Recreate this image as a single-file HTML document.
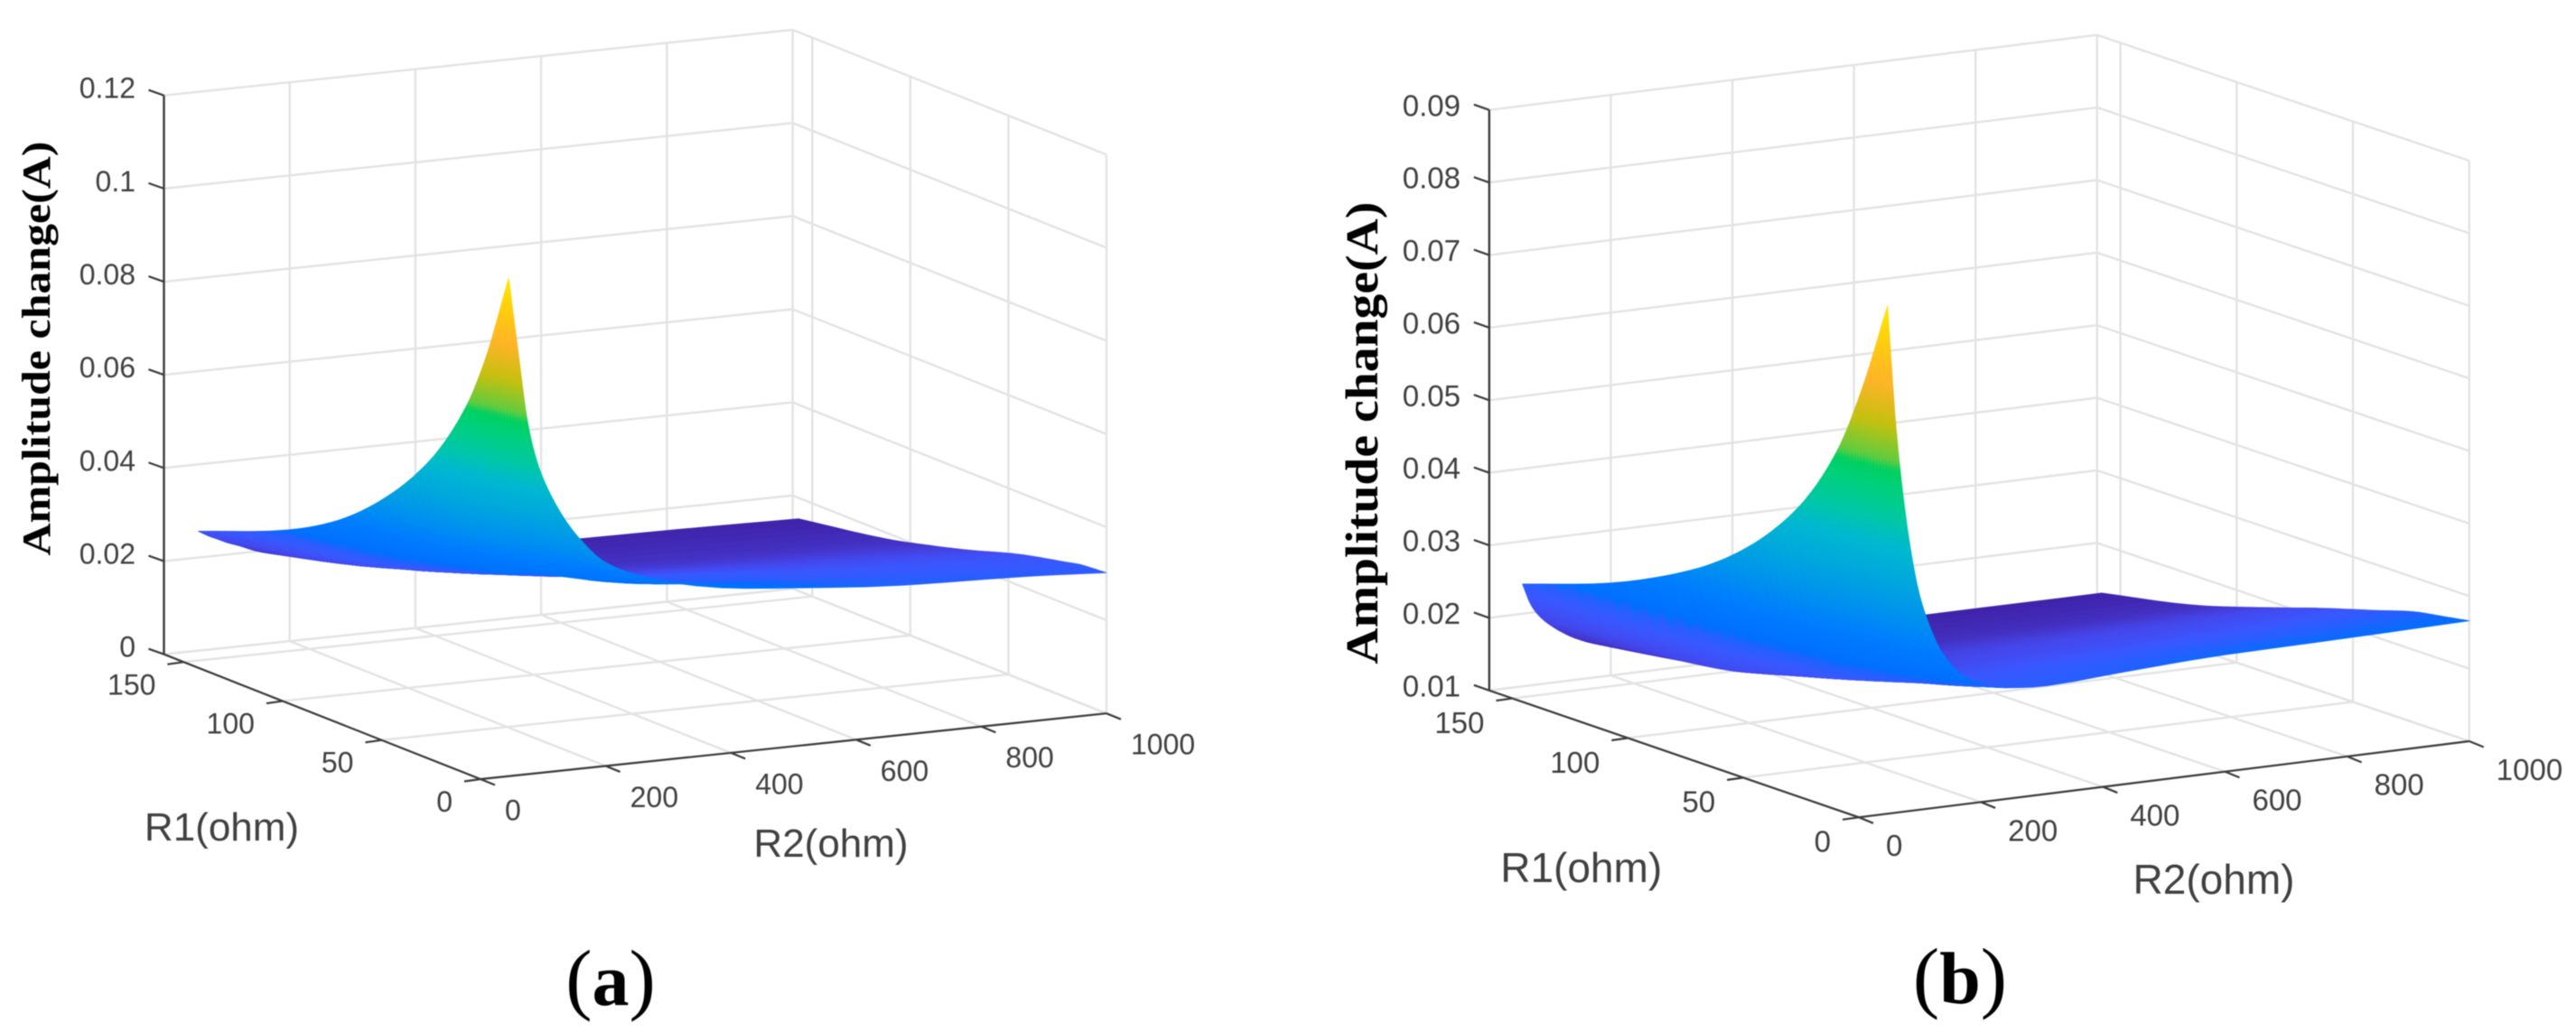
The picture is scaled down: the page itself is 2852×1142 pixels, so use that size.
<!DOCTYPE html>
<html lang="en">
<head>
<meta charset="utf-8">
<title>Amplitude change surfaces</title>
<style>
html,body{margin:0;padding:0;background:#fff;width:2852px;height:1142px;overflow:hidden}
svg{display:block;filter:blur(0.6px)}
.tick{font-family:"Liberation Sans",sans-serif;fill:#404040}
.axis-label{font-family:"Liberation Sans",sans-serif;fill:#404040}
.z-title{font-family:"Liberation Serif",serif;font-weight:bold;fill:#000}
.caption{font-family:"Liberation Serif",serif;fill:#000}
</style>
</head>
<body>
<svg id="figure" xmlns="http://www.w3.org/2000/svg" width="2852" height="1142" viewBox="0 0 2852 1142">
  <rect x="0" y="0" width="2852" height="1142" fill="#fff"/>
  <g id="panel-a"></g>
  <g id="panel-b"></g>

  <text class="z-title" transform="translate(55,386) rotate(-90)" text-anchor="middle" font-size="44" textLength="459" lengthAdjust="spacingAndGlyphs">Amplitude change(A)</text>
  <text class="axis-label" x="245.5" y="931" text-anchor="middle" font-size="44">R1(ohm)</text>
  <text class="axis-label" x="920" y="949" text-anchor="middle" font-size="44">R2(ohm)</text>
  <text class="caption" x="676" y="1113" text-anchor="middle" font-size="88">(<tspan font-weight="bold" font-size="82">a</tspan>)</text>

  <text class="z-title" transform="translate(1525,479.6) rotate(-90)" text-anchor="middle" font-size="51" textLength="512" lengthAdjust="spacingAndGlyphs">Amplitude change(A)</text>
  <text class="axis-label" x="1750.7" y="977" text-anchor="middle" font-size="46">R1(ohm)</text>
  <text class="axis-label" x="2451" y="990" text-anchor="middle" font-size="46">R2(ohm)</text>
  <text class="caption" x="2170" y="1111" text-anchor="middle" font-size="88">(<tspan font-weight="bold" font-size="82">b</tspan>)</text>
</svg>
<script>
// ---------- Shared tick values ----------
const r1Ticks = [0, 50, 100, 150];
const r2Ticks = [0, 200, 400, 600, 800, 1000];

// ---------- Panel (a) data ----------
const zTicksA = [0, 0.02, 0.04, 0.06, 0.08, 0.1, 0.12];
const zTickLabelsA = ['0', '0.02', '0.04', '0.06', '0.08', '0.1', '0.12'];
const r1ValuesA = [0, 12, 22, 42, 72, 90, 112, 157];
const r2ValuesA = [45, 62, 75, 91, 111, 136, 156, 200, 265, 387, 499, 675, 873, 1000];
const zA_r1_0 = [.107, .089, .0758, .0666, .0598, .0536, .0498, .0437, .0396, .0356, .034, .0321, .0312, .0302];
const zA_r1_12 = [.0873, .075, .0655, .059, .054, .0492, .046, .0412, .0375, .0345, .033, .0312, .0302, .0298];
const zA_r1_22 = [.0753, .066, .0587, .053, .0488, .0445, .0422, .0382, .035, .0328, .0317, .0303, .0294, .0289];
const zA_r1_42 = [.0598, .0535, .049, .0445, .0412, .0385, .0368, .0342, .0332, .0307, .0298, .0282, .0275, .027];
const zA_r1_72 = [.0454, .042, .0393, .0362, .0338, .0321, .031, .0294, .0281, .026, .0252, .0242, .0235, .0231];
const zA_r1_90 = [.0394, .0368, .0348, .0325, .0303, .0288, .028, .0268, .0254, .0234, .0225, .0218, .0214, .021];
const zA_r1_112 = [.0341, .0322, .0308, .029, .0272, .0258, .0249, .0239, .0222, .0204, .0197, .0193, .019, .0187];
const zA_r1_157 = [.0263, .025, .0242, .0232, .0222, .0208, .02, .0187, .0172, .0165, .0163, .0161, .0158, .0155];

// ---------- Panel (b) data ----------
const zTicksB = [0.01, 0.02, 0.03, 0.04, 0.05, 0.06, 0.07, 0.08, 0.09];
const zTickLabelsB = ['0.01', '0.02', '0.03', '0.04', '0.05', '0.06', '0.07', '0.08', '0.09'];
const r1ValuesB = [0, 11, 22, 40, 66, 86, 120, 158];
const r2ValuesB = [47, 61, 71, 84, 97, 110, 137, 176, 242, 308, 440, 599, 800, 1000];
const zB_r1_0 = [.08, .0631, .0547, .0465, .0405, .0366, .0312, .0274, .0253, .0249, .0255, .0261, .0263, .0266];
const zB_r1_11 = [.0674, .054, .0466, .0402, .0355, .032, .028, .0254, .0244, .0242, .0247, .0254, .0257, .026];
const zB_r1_22 = [.0575, .047, .0417, .0365, .0325, .0295, .0258, .0243, .0237, .0236, .024, .0244, .0248, .0254];
const zB_r1_40 = [.0474, .0395, .035, .031, .0275, .0248, .0234, .0226, .0222, .0221, .0224, .0227, .0232, .0237];
const zB_r1_66 = [.0386, .0325, .029, .0255, .0235, .0222, .021, .0203, .0198, .0197, .0199, .0202, .0206, .0212];
const zB_r1_86 = [.0341, .0285, .0255, .0225, .0206, .0198, .0192, .0187, .0183, .0182, .0184, .0186, .0188, .0191];
const zB_r1_120 = [.0287, .0235, .0215, .0205, .0195, .0185, .0175, .0165, .0155, .0153, .0154, .0155, .0156, .0158];
const zB_r1_158 = [.0244, .0214, .0201, .0189, .018, .0172, .0159, .0147, .0138, .0135, .0134, .0133, .0133, .0133];

// ---------- Colour map ----------
const colorStops = [0, .05, .09, .147, .18, .20, .27, .334, .42, .49, .55, .62, .655, .675, .75, .84, .92, 1];
const colorValues = ['#3f22a8', '#4434c8', '#4448ec', '#3a58ff', '#2460ff', '#0070ff', '#007cff', '#0090f0', '#00a8dc', '#00b8d0', '#00c8a4', '#00d078', '#00d060', '#60cc40', '#c4c010', '#ffb428', '#ffcc10', '#ffe800'];

const SVG_NS = 'http://www.w3.org/2000/svg';

function hexToRgb(hex) {
  return [parseInt(hex.slice(1, 3), 16), parseInt(hex.slice(3, 5), 16), parseInt(hex.slice(5, 7), 16)];
}
function colormap(n) {
  n = Math.max(0, Math.min(1, n));
  let k = 0;
  while (k < colorStops.length - 2 && n > colorStops[k + 1]) k++;
  const t = (n - colorStops[k]) / (colorStops[k + 1] - colorStops[k]);
  const a = hexToRgb(colorValues[k]);
  const b = hexToRgb(colorValues[k + 1]);
  return 'rgb(' + Math.round(a[0] + (b[0] - a[0]) * t) + ',' + Math.round(a[1] + (b[1] - a[1]) * t) + ',' + Math.round(a[2] + (b[2] - a[2]) * t) + ')';
}

// Monotone cubic used only to smooth the rendered mesh between read values
function smoothCurve(xs, ys) {
  const n = xs.length;
  const h = [];
  const d = [];
  for (let i = 0; i < n - 1; i++) {
    h.push(xs[i + 1] - xs[i]);
    d.push((ys[i + 1] - ys[i]) / h[i]);
  }
  const m = new Array(n).fill(0);
  m[0] = d[0];
  m[n - 1] = d[n - 2];
  for (let i = 1; i < n - 1; i++) {
    if (d[i - 1] * d[i] > 0) {
      const w1 = 2 * h[i] + h[i - 1];
      const w2 = h[i] + 2 * h[i - 1];
      m[i] = (w1 + w2) / (w1 / d[i - 1] + w2 / d[i]);
    }
  }
  return function (x) {
    let i = 0;
    while (i < n - 2 && x > xs[i + 1]) i++;
    const t = (x - xs[i]) / h[i];
    const t2 = t * t;
    const t3 = t2 * t;
    return (2 * t3 - 3 * t2 + 1) * ys[i] + (t3 - 2 * t2 + t) * h[i] * m[i] + (-2 * t3 + 3 * t2) * ys[i + 1] + (t3 - t2) * h[i] * m[i + 1];
  };
}

// Mesh density: many steps near the peak, fewer on the flat part
function refine(knots, stepsFor) {
  const out = [];
  for (let i = 0; i < knots.length - 1; i++) {
    const steps = stepsFor(i);
    for (let s = 0; s < steps; s++) out.push(knots[i] + (knots[i + 1] - knots[i]) * s / steps);
  }
  out.push(knots[knots.length - 1]);
  return out;
}

function drawPanel(cfg) {
  const root = document.getElementById(cfg.id);
  const suffix = cfg.suffix;

  // Axis functions
  const zScale = function (z) {
    return (z - cfg.zMin) / (cfg.zMax - cfg.zMin) * cfg.height;
  };
  const project = function (r2, r1, z) {
    const a = r2 / 1000;
    const b = r1 / 160;
    const x = (1 - a) * (1 - b) * cfg.front[0] + a * (1 - b) * cfg.right[0] + a * b * cfg.back[0] + (1 - a) * b * cfg.left[0];
    const y = (1 - a) * (1 - b) * cfg.front[1] + a * (1 - b) * cfg.right[1] + a * b * cfg.back[1] + (1 - a) * b * cfg.left[1];
    return [x, y - zScale(z)];
  };

  function addLine(p, q, stroke, width, name) {
    const el = document.createElementNS(SVG_NS, 'line');
    el.setAttribute('x1', p[0].toFixed(2));
    el.setAttribute('y1', p[1].toFixed(2));
    el.setAttribute('x2', q[0].toFixed(2));
    el.setAttribute('y2', q[1].toFixed(2));
    el.setAttribute('stroke', stroke);
    el.setAttribute('stroke-width', width);
    
    
    root.appendChild(el);
  }
  function addText(x, y, str, anchor, size, name) {
    const el = document.createElementNS(SVG_NS, 'text');
    el.setAttribute('x', x.toFixed(2));
    el.setAttribute('y', y.toFixed(2));
    el.setAttribute('text-anchor', anchor);
    el.setAttribute('font-size', size);
    el.setAttribute('class', 'tick');
    
    
    el.textContent = str;
    root.appendChild(el);
  }

  const GRID = '#e3e3e3';
  const GW = 2.4;
  const R1_END = 160;
  const R2_END = 1000;

  // Gridlines: z levels on both walls
  cfg.zTicks.forEach(function (z) {
    addLine(project(0, R1_END, z), project(R2_END, R1_END, z), GRID, GW, 'left-wall-grid-z-' + suffix);
    addLine(project(R2_END, R1_END, z), project(R2_END, 0, z), GRID, GW, 'right-wall-grid-z-' + suffix);
  });
  // Gridlines: R2 positions on left wall and floor
  r2Ticks.forEach(function (r2) {
    if (r2 > 0) addLine(project(r2, R1_END, cfg.zMin), project(r2, R1_END, cfg.zMax), GRID, GW, 'left-wall-grid-r2-' + suffix);
    addLine(project(r2, 0, cfg.zMin), project(r2, R1_END, cfg.zMin), GRID, GW, 'floor-grid-r2-' + suffix);
  });
  // Gridlines: R1 positions on right wall and floor
  r1Ticks.forEach(function (r1) {
    addLine(project(R2_END, r1, cfg.zMin), project(R2_END, r1, cfg.zMax), GRID, GW, 'right-wall-grid-r1-' + suffix);
    addLine(project(0, r1, cfg.zMin), project(R2_END, r1, cfg.zMin), GRID, GW, 'floor-grid-r1-' + suffix);
  });
  addLine(project(R2_END, R1_END, cfg.zMin), project(0, R1_END, cfg.zMin), GRID, GW, 'floor-back-edge-' + suffix);
  addLine(project(R2_END, R1_END, cfg.zMin), project(R2_END, 0, cfg.zMin), GRID, GW, 'floor-right-edge-' + suffix);

  // Surface mesh
  const rowCurves = cfg.rows.map(function (row) {
    return smoothCurve(cfg.r2Values, row);
  });
  const fineR1 = refine(cfg.r1Values, function (i) { return i < 4 ? 10 : 5; });
  const fineR2 = refine(cfg.r2Values, function (i) { return i < 5 ? 16 : (i < 8 ? 6 : 3); });
  const grid = fineR1.map(function () { return new Array(fineR2.length); });
  fineR2.forEach(function (r2, j) {
    const column = rowCurves.map(function (f) { return f(r2); });
    const curve = smoothCurve(cfg.r1Values, column);
    fineR1.forEach(function (r1, i) {
      grid[i][j] = curve(r1);
    });
  });
  const surface = document.createElementNS(SVG_NS, 'g');
  
  
  root.appendChild(surface);
  for (let i = fineR1.length - 2; i >= 0; i--) {
    for (let j = fineR2.length - 2; j >= 0; j--) {
      const z00 = grid[i][j];
      const z01 = grid[i][j + 1];
      const z11 = grid[i + 1][j + 1];
      const z10 = grid[i + 1][j];
      const p = [project(fineR2[j], fineR1[i], z00), project(fineR2[j + 1], fineR1[i], z01), project(fineR2[j + 1], fineR1[i + 1], z11), project(fineR2[j], fineR1[i + 1], z10)];
      const avg = (z00 + z01 + z11 + z10) / 4;
      const col = colormap((avg - cfg.surfaceMin) / (cfg.surfaceMax - cfg.surfaceMin));
      const poly = document.createElementNS(SVG_NS, 'polygon');
      poly.setAttribute('points', p.map(function (q) { return q[0].toFixed(1) + ',' + q[1].toFixed(1); }).join(' '));
      poly.setAttribute('fill', col);
      poly.setAttribute('stroke', col);
      poly.setAttribute('stroke-width', '0.7');
      poly.setAttribute('stroke-linejoin', 'round');
      
      
      surface.appendChild(poly);
    }
  }

  // Axis lines
  const AXIS = '#3c3c3c';
  addLine(project(0, R1_END, cfg.zMin), project(0, R1_END, cfg.zMax), AXIS, 2.4, 'z-axis-line-' + suffix);
  addLine(project(0, R1_END, cfg.zMin), project(0, 0, cfg.zMin), AXIS, 2.2, 'r1-axis-line-' + suffix);
  addLine(project(0, 0, cfg.zMin), project(R2_END, 0, cfg.zMin), AXIS, 2.2, 'r2-axis-line-' + suffix);

  // Z ticks and labels
  cfg.zTicks.forEach(function (z, k) {
    const p = project(0, R1_END, z);
    addLine(p, [p[0] - 17, p[1] - 6], AXIS, 2.2, 'z-tick-' + suffix);
    addText(cfg.zLabelRight, p[1] + cfg.zLabelDy, cfg.zLabels[k], 'end', cfg.tickFont, 'z-tick-label-' + suffix);
  });
  // R1 ticks and labels
  r1Ticks.forEach(function (r1) {
    const p = project(0, r1, cfg.zMin);
    addLine(p, [p[0] - 18, p[1] + 2.5], AXIS, 2.2, 'r1-tick-' + suffix);
    addText(p[0] + cfg.r1Offset[0], p[1] + cfg.r1Offset[1] + cfg.tickFont * 0.358, String(r1), 'end', cfg.tickFont, 'r1-tick-label-' + suffix);
  });
  // R2 ticks and labels
  r2Ticks.forEach(function (r2) {
    const p = project(r2, 0, cfg.zMin);
    addLine(p, [p[0] + 16, p[1] + 6.5], AXIS, 2.2, 'r2-tick-' + suffix);
    addText(p[0] + cfg.r2Offset[0], p[1] + cfg.r2Offset[1] + cfg.tickFont * 0.358, String(r2), 'start', cfg.tickFont, 'r2-tick-label-' + suffix);
  });
}

drawPanel({
  id: 'panel-a', suffix: 'a',
  front: [532, 863], right: [1225, 790.2], back: [877.6, 652], left: [181.5, 724.7],
  height: 619, zMin: 0, zMax: 0.12,
  surfaceMin: 0.0155, surfaceMax: 0.107,
  zTicks: zTicksA, zLabels: zTickLabelsA,
  r1Values: r1ValuesA, r2Values: r2ValuesA,
  rows: [zA_r1_0, zA_r1_12, zA_r1_22, zA_r1_42, zA_r1_72, zA_r1_90, zA_r1_112, zA_r1_157],
  zLabelRight: 150, zLabelDy: 3, tickFont: 32,
  r1Offset: [-31, 24.5], r2Offset: [27, 34]
});

drawPanel({
  id: 'panel-b', suffix: 'b',
  front: [2058, 905.3], right: [2733.8, 821], back: [2321.8, 681.7], left: [1648.8, 764.8],
  height: 643, zMin: 0.01, zMax: 0.09,
  surfaceMin: 0.0133, surfaceMax: 0.08,
  zTicks: zTicksB, zLabels: zTickLabelsB,
  r1Values: r1ValuesB, r2Values: r2ValuesB,
  rows: [zB_r1_0, zB_r1_11, zB_r1_22, zB_r1_40, zB_r1_66, zB_r1_86, zB_r1_120, zB_r1_158],
  zLabelRight: 1617, zLabelDy: 6.5, tickFont: 33,
  r1Offset: [-31, 26.5], r2Offset: [30, 31]
});
</script>
</body>
</html>
